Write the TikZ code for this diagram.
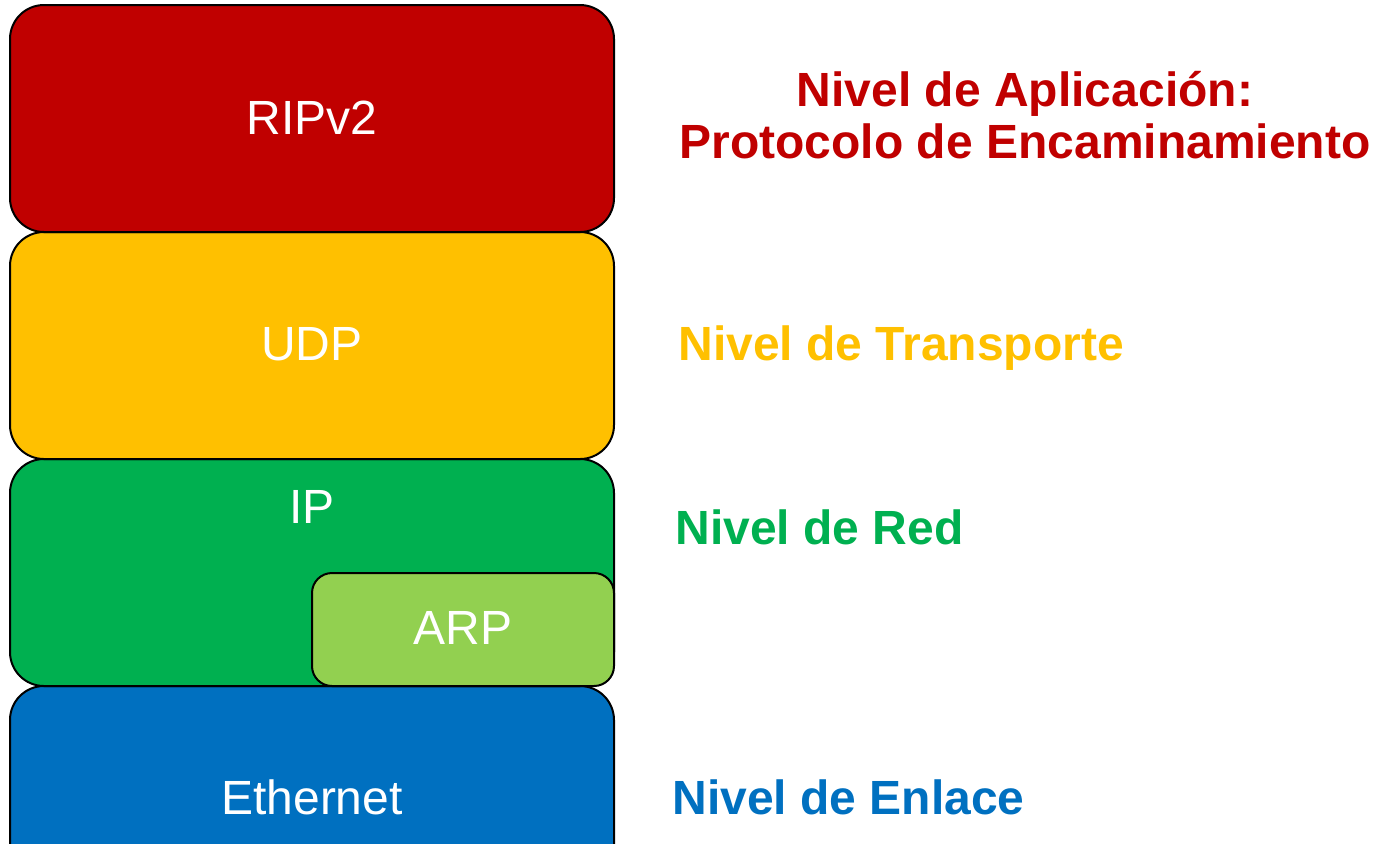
\documentclass[tikz,border=0pt]{standalone}
\usepackage{fontspec}
\setmainfont{Liberation Sans}
\definecolor{cred}{HTML}{C00000}
\definecolor{cyellow}{HTML}{FFC000}
\definecolor{cgreen}{HTML}{00B050}
\definecolor{cblue}{HTML}{0070C0}
\definecolor{clgreen}{HTML}{92D050}
\begin{document}
\begin{tikzpicture}[x=0.5pt,y=-0.5pt,
  layer/.style={draw=black,line width=1pt,rounded corners=17pt},
  lbl/.style={text=white,font=\fontsize{24}{28}\selectfont,inner sep=0pt},
  lvl/.style={font=\bfseries\fontsize{24}{28}\selectfont,inner sep=0pt,anchor=west}]
\useasboundingbox (0,0) rectangle (1375,843);
\clip (0,0) rectangle (1375,843);
\filldraw[layer,fill=cblue] (10,686) rectangle (614,1000);
\filldraw[layer,fill=cgreen] (10,459) rectangle (614,686);
\filldraw[layer,fill=clgreen,rounded corners=10pt] (312,573) rectangle (614,686);
\filldraw[layer,fill=cyellow] (10,232) rectangle (614,459);
\filldraw[layer,fill=cred] (10,5) rectangle (614,232);
\node[lbl] (rip) at (312,118) {RIPv2};
\node[lbl] (udp) at (312,344) {UDP};
\node[lbl] (ip) at (312,507) {IP};
\node[lbl] (arp) at (463,628) {ARP};
\node[lbl] (eth) at (312,797) {Ethernet};
\node[font=\bfseries\fontsize{24}{26}\selectfont,text=cred,align=center,inner sep=0pt] (app) at (1025,115) {Nivel de Aplicación:\\Protocolo de Encaminamiento};
\node[lvl,text=cyellow] (tra) at (678,348) {Nivel de Transporte};
\node[lvl,text=cgreen] (red) at (675,527) {Nivel de Red};
\node[lvl,text=cblue] (enl) at (672,797) {Nivel de Enlace};
\end{tikzpicture}
\end{document}
